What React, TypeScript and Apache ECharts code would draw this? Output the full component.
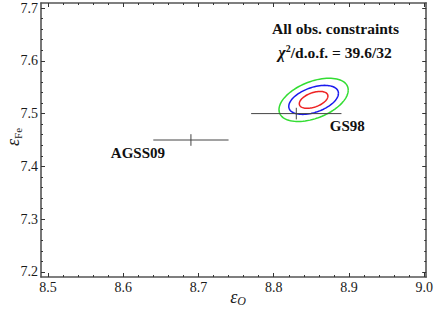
import React, { useEffect, useRef } from "react";
import * as echarts from "echarts";

// ---- data ----
const xTicks = [8.5, 8.6, 8.7, 8.8, 8.9, 9.0];
const yTicks = [7.2, 7.3, 7.4, 7.5, 7.6, 7.7];
const xRange = [8.4908, 9.0026];
const yRange = [7.1905, 7.7095];

const models = ["AGSS09", "GS98"];
const modelO = [8.69, 8.83];
const modelOErr = [0.05, 0.06];
const modelFe = [7.45, 7.5];
const modelFeErr = [0.011, 0.011];

const fitCenter = [8.853, 7.526];
const contourLevels = ["1σ", "2σ", "3σ"];
const contourHalfWidthO = [0.019, 0.033, 0.046];
const contourHalfHeightFe = [0.016, 0.0275, 0.041];
const contourCorrelation = 0.45;

const titleLine1 = "All obs. constraints";
const chi2 = "39.6";
const dof = "32";

// ---- style ----
const FONT = "Liberation Serif";
const AXIS_COLOR = "#555";
const contourColors = ["#ee2222", "#1a1aee", "#33dd33"];
const labelOffsets: Record<string, number[]> = { AGSS09: [-53, 13], GS98: [51, 12.5] };

function minorOf(ticks: number[], n: number) {
  const out: number[] = [];
  for (let i = 0; i < ticks.length - 1; i++) {
    const step = (ticks[i + 1] - ticks[i]) / n;
    for (let k = 1; k < n; k++) out.push(+(ticks[i] + k * step).toFixed(4));
  }
  return out;
}

export default function App() {
  const ref = useRef<HTMLDivElement>(null);
  useEffect(() => {
    if (!ref.current) return;
    const chart = echarts.init(ref.current, null, { renderer: "svg" });
    const xMinor = minorOf(xTicks, 5);
    const yMinor = minorOf(yTicks, 5);

    const mkAxis = (
      pos: string,
      values: number[],
      range: number[],
      len: number,
      showLine: boolean,
      showLabel: boolean
    ) => ({
      type: "value",
      position: pos,
      min: range[0],
      max: range[1],
      splitLine: { show: false },
      axisLine: { show: showLine, onZero: false, lineStyle: { color: AXIS_COLOR, width: 1.6 } },
      axisTick: {
        show: true,
        inside: true,
        length: len,
        customValues: values,
        lineStyle: { color: "#333", width: 1 },
      },
      axisLabel: {
        show: showLabel,
        customValues: values,
        formatter: (v: number) => v.toFixed(1),
        fontFamily: FONT,
        fontSize: 14,
        color: "#1a1a1a",
        margin: 3,
      },
    });

    const errorData = models.map((m, i) => [modelO[i], modelFe[i], modelOErr[i], modelFeErr[i], i]);

    chart.setOption({
      animation: false,
      textStyle: { fontFamily: FONT },
      grid: { left: 41, right: 6, top: 3, bottom: 38 },
      xAxis: [
        mkAxis("bottom", xTicks, xRange, 4, true, true),
        mkAxis("bottom", xMinor, xRange, 2, false, false),
        mkAxis("top", xTicks, xRange, 4, true, false),
        mkAxis("top", xMinor, xRange, 2, false, false),
      ],
      yAxis: [
        mkAxis("left", yTicks, yRange, 4, true, true),
        mkAxis("left", yMinor, yRange, 2, false, false),
        mkAxis("right", yTicks, yRange, 4, true, false),
        mkAxis("right", yMinor, yRange, 2, false, false),
      ],
      series: [
        {
          type: "custom",
          name: "contours",
          xAxisIndex: 0,
          yAxisIndex: 0,
          data: contourLevels.map((_, i) => [fitCenter[0], fitCenter[1], i]),
          encode: { x: 0, y: 1 },
          renderItem: (params: any, api: any) => {
            const i = api.value(2);
            const cx = api.value(0);
            const cy = api.value(1);
            const sx = contourHalfWidthO[i];
            const sy = contourHalfHeightFe[i];
            const r = contourCorrelation;
            const pts: number[][] = [];
            const N = 90;
            for (let k = 0; k <= N; k++) {
              const t = (k / N) * Math.PI * 2;
              const x = cx + sx * Math.cos(t);
              const y = cy + sy * (r * Math.cos(t) + Math.sqrt(1 - r * r) * Math.sin(t));
              pts.push(api.coord([x, y]));
            }
            return {
              type: "polyline",
              shape: { points: pts },
              style: { stroke: contourColors[i], lineWidth: 1.5, fill: "none" },
            };
          },
        },
        {
          type: "custom",
          name: "models",
          xAxisIndex: 0,
          yAxisIndex: 0,
          data: errorData,
          encode: { x: 0, y: 1 },
          renderItem: (params: any, api: any) => {
            const x = api.value(0);
            const y = api.value(1);
            const ex = api.value(2);
            const ey = api.value(3);
            const name = models[api.value(4)];
            const l = api.coord([x - ex, y]);
            const rr = api.coord([x + ex, y]);
            const b = api.coord([x, y - ey]);
            const t = api.coord([x, y + ey]);
            const c = api.coord([x, y]);
            const off = labelOffsets[name] || [0, 0];
            return {
              type: "group",
              children: [
                { type: "line", shape: { x1: l[0], y1: l[1], x2: rr[0], y2: rr[1] }, style: { stroke: "#444", lineWidth: 1 } },
                { type: "line", shape: { x1: b[0], y1: b[1], x2: t[0], y2: t[1] }, style: { stroke: "#444", lineWidth: 1 } },
                {
                  type: "text",
                  x: c[0] + off[0],
                  y: c[1] + off[1],
                  style: {
                    text: name,
                    align: "center",
                    verticalAlign: "middle",
                    fontFamily: FONT,
                    fontWeight: "bold",
                    fontSize: 15,
                    fill: "#111",
                  },
                },
              ],
            };
          },
        },
      ],
      graphic: [
        {
          type: "text",
          x: 335.5,
          y: 28,
          style: {
            text: titleLine1,
            align: "center",
            verticalAlign: "middle",
            fontFamily: FONT,
            fontWeight: "bold",
            fontSize: 15.5,
            fill: "#111",
          },
        },
        {
          type: "text",
          x: 335,
          y: 52,
          style: {
            text: `{chi|χ}{sup|2}{b|/d.o.f. = ${chi2}/${dof}}`,
            align: "center",
            verticalAlign: "middle",
            rich: {
              chi: { fontFamily: FONT, fontStyle: "italic", fontWeight: "bold", fontSize: 16, lineHeight: 18, fill: "#111" },
              sup: { fontFamily: FONT, fontWeight: "bold", fontSize: 10, lineHeight: 10, verticalAlign: "top", fill: "#111" },
              b: { fontFamily: FONT, fontWeight: "bold", fontSize: 15.5, lineHeight: 18, fill: "#111" },
            },
          },
        },
        {
          type: "text",
          x: 238,
          y: 297,
          style: {
            text: "{e|ε}{s|O}",
            align: "center",
            verticalAlign: "middle",
            rich: {
              e: { fontFamily: FONT, fontStyle: "italic", fontSize: 18, lineHeight: 20, fill: "#222" },
              s: { fontFamily: FONT, fontStyle: "italic", fontSize: 12, lineHeight: 12, verticalAlign: "bottom", fill: "#222" },
            },
          },
        },
        {
          type: "text",
          x: 13,
          y: 137,
          rotation: Math.PI / 2,
          style: {
            text: "{e|ε}{s|Fe}",
            align: "center",
            verticalAlign: "middle",
            rich: {
              e: { fontFamily: FONT, fontStyle: "italic", fontSize: 18, lineHeight: 20, fill: "#222" },
              s: { fontFamily: FONT, fontSize: 11, lineHeight: 11, verticalAlign: "bottom", fill: "#222" },
            },
          },
        },
      ],
    });
    return () => chart.dispose();
  }, []);
  return (
    <div
      ref={ref}
      style={{ position: "absolute", left: 0, top: 0, width: 436, height: 315, background: "#fff" }}
    />
  );
}
